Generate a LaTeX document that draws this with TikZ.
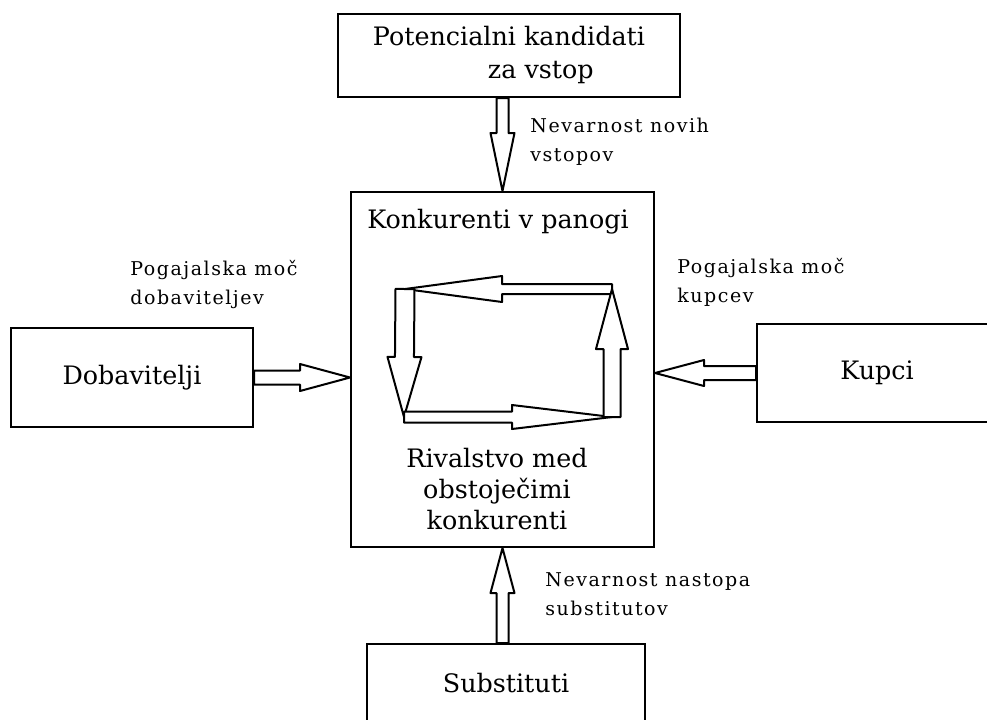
\documentclass[tikz,border=0pt]{standalone}
\usepackage{fontspec}
\setmainfont{DejaVu Serif}
\newfontfamily\lblfont[LetterSpace=8]{DejaVu Serif}
\usetikzlibrary{calc}
\tikzset{
  box/.style={draw, line width=1pt, inner sep=0pt, align=center,
    font=\fontsize{12.7}{16.5}\selectfont},
  txt/.style={inner sep=0pt, align=center, font=\fontsize{12.7}{15.5}\selectfont},
  lbl/.style={inner sep=0pt, anchor=west, align=left,
    font=\lblfont\fontsize{9.5}{14.5}\selectfont},
  hollow/.style n args={3}{draw, line width=1pt, fill=white, line join=round,
    to path={let \p1=(\tikztostart), \p2=(\tikztotarget),
      \n1={atan2(\y2-\y1,\x2-\x1)}, \n2={veclen(\x2-\x1,\y2-\y1)-#3},
      \n3={\n1+90}, \n4={\n1-90} in
      ($(\p1)+(\n3:#1)$) -- ($(\p1)+(\n1:\n2)+(\n3:#1)$)
      -- ($(\p1)+(\n1:\n2)+(\n3:#2)$) -- (\p2)
      -- ($(\p1)+(\n1:\n2)+(\n4:#2)$) -- ($(\p1)+(\n1:\n2)+(\n4:#1)$)
      -- ($(\p1)+(\n4:#1)$) -- cycle}}
}
\begin{document}
\begin{tikzpicture}[x=0.5pt, y=-0.5pt]
          \useasboundingbox (0, 0) rectangle (987, 719);
          \clip (0, 0) rectangle (987, 719);

          \node [box, minimum width=171pt, minimum height=41.5pt] (pot) at (509, 55.5)
            {\begin{tabular}{@{}l@{}}Potencialni kandidati\\\hspace*{57.5pt}za vstop\end{tabular}};
          \node [box, minimum width=151.5pt, minimum height=177.5pt] (konk) at (502.5, 369.5) {};
          \node [box, minimum width=121pt, minimum height=49.5pt] (dob) at (132, 377.5) {Dobavitelji};
          \node [box, minimum width=120pt, minimum height=49pt] (kup) at (877, 373) {Kupci};
          \node [box, minimum width=139pt, minimum height=39pt] (sub) at (506, 683) {Substituti};

          \node [txt] (konkt) at (498, 222) {Konkurenti v panogi};
          \node [txt] (rival) at (497, 489) {Rivalstvo med\\obstoječimi\\konkurenti};

          \node [lbl] (novi) at (530, 142) {Nevarnost novih\\vstopov};
          \node [lbl] (pmdob) at (130, 285) {Pogajalska moč\\dobaviteljev};
          \node [lbl] (pmkup) at (677, 282.5) {Pogajalska moč\\kupcev};
          \node [lbl] (subst) at (545, 594.5) {Nevarnost nastopa\\substitutov};

          % sile
          \draw [hollow={3pt}{6pt}{29pt}] (pot.south -| konk.north) to (konk.north);
          \draw [hollow={3pt}{6pt}{22.5pt}] (sub.north -| konk.south) to (konk.south);
          \draw [hollow={3.5pt}{6.75pt}{25pt}] (dob.east) to (dob.east -| konk.west);
          \draw [hollow={3.5pt}{6.5pt}{24.5pt}] (kup.west) to (kup.west -| konk.east);

          % rivalstvo
          \coordinate (tl) at (405, 289);
          \coordinate (tr) at (612, 289);
          \coordinate (br) at (612, 417);
          \coordinate (bl) at (404, 417);
          \draw [hollow={2.5pt}{6.5pt}{48.5pt}] (tr) to (tl);
          \draw [hollow={4.75pt}{8.5pt}{30pt}] (tl) to (bl);
          \draw [hollow={2.75pt}{6pt}{50pt}] (bl) to (br);
          \draw [hollow={4.25pt}{8pt}{30pt}] (br) to (tr);
        \end{tikzpicture}
\end{document}
